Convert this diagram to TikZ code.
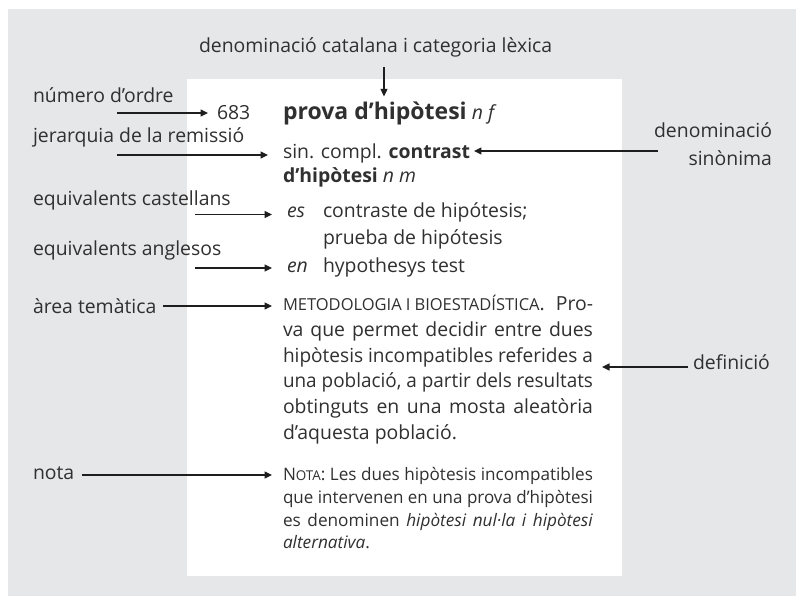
\documentclass[tikz,border=0pt]{standalone}
\usepackage{fontspec}
\usepackage{graphicx}
\setmainfont{Open Sans}
\usetikzlibrary{arrows.meta,calc}
\definecolor{bggray}{HTML}{E6E7E8}
\definecolor{txt}{HTML}{303030}
\definecolor{arrc}{HTML}{1E1E1E}
\newcommand{\labfont}{\fontsize{19.4}{22}\selectfont}
\newcommand{\notefont}{\fontsize{17.2}{20}\selectfont}
\newcommand{\scfont}{\fontsize{16.5}{18}\selectfont}
\newsavebox{\jbox}
\newlength{\jw}\setlength{\jw}{310pt}
\newcommand{\jline}[1]{\sbox{\jbox}{#1}\ifdim\wd\jbox>\jw\resizebox{\jw}{\ht\jbox}{\usebox{\jbox}}\else\makebox[\jw][s]{#1}\fi}
\tikzset{
  lab/.style={inner sep=0pt, outer sep=0pt, anchor=base west, text=txt, font=\labfont},
  labr/.style={lab, anchor=base east},
  notel/.style={lab, font=\notefont},
  arr/.style={draw=arrc, line width=1.2pt, -{Triangle[length=7.5pt,width=7pt]}}
}
\begin{document}
\begin{tikzpicture}[x=1pt,y=-1pt]
\useasboundingbox (0,0) rectangle (796,597);
\fill[white] (0,0) rectangle (796,597);
\fill[bggray] (8,9) rectangle (796,596);
\fill[white] (187,79) rectangle (622,576);

% top label
\node[lab, anchor=base west] (lcat) at (199,52) {denominació catalana i categoria lèxica};

% left labels
\node[lab] (lord) at (33,102) {número d’ordre};
\node[lab] (ljer) at (33,142) {jerarquia de la remissió};
\node[lab] (lcas) at (33,205) {equivalents castellans};
\node[lab] (lang) at (33,255) {equivalents anglesos};
\node[lab] (lare) at (33,313) {àrea temàtica};
\node[lab] (lnot) at (33,479) {nota};

% right labels
\node[labr] (lsin1) at (772,137) {denominació};
\node[labr] (lsin2) at (772,165) {sinònima};
\node[lab] (ldef) at (693,369) {definició};

% entry
\node[lab] (n683) at (217,119) {683};
\node[lab] (head) at (283,119) {{\fontsize{23}{26}\selectfont\bfseries prova d’hipòtesi} \textit{n f}};
\node[lab] (sin) at (283,158) {sin. compl. \textbf{contrast}};
\node[lab] (sin2) at (283,182) {\textbf{d’hipòtesi} \textit{n m}};
\node[lab] (es) at (287,217) {\textit{es}};
\node[lab] (es1) at (323,217) {contraste de hipótesis;};
\node[lab] (es2) at (323,244) {prueba de hipótesis};
\node[lab] (en) at (287,272) {\textit{en}};
\node[lab] (en1) at (323,272) {hypothesys test};

\node[lab] (d1) at (283,310.7) {\jline{{\scfont METODOLOGIA\hspace{0.25em}I\hspace{0.25em}BIOESTADÍSTICA}. Pro-}};
\node[lab] (d2) at (283,336.4) {\jline{va que permet decidir entre dues}};
\node[lab] (d3) at (283,362.1) {\jline{hipòtesis incompatibles referides a}};
\node[lab] (d4) at (283,387.8) {\jline{una població, a partir dels resultats}};
\node[lab] (d5) at (283,413.5) {\jline{obtinguts en una mosta aleatòria}};
\node[lab] (d6) at (283,439.2) {d’aquesta població.};

\node[notel] (nt1) at (283,480) {\jline{N{\fontsize{13.5}{16}\selectfont OTA}: Les dues hipòtesis incompatibles}};
\node[notel] (nt2) at (283,503) {\jline{que intervenen en una prova d’hipòtesi}};
\node[notel] (nt3) at (283,526) {\jline{es denominen \textit{hipòtesi nul·la i hipòtesi}}};
\node[notel] (nt4) at (283,548.5) {\textit{alternativa}.};

% arrow start points
\coordinate (scat) at (384,67);
\coordinate (sord) at (117,113);
\coordinate (sjer) at (117,155);
\coordinate (scas) at (195,214.5);
\coordinate (sang) at (195,268);
\coordinate (sare) at (163,306);
\coordinate (snot) at (82,475);
\coordinate (ssin) at (658,151);
\coordinate (sdef) at (688,367);

% connectors
\draw[arr] (scat) -- ($(scat |- head.north)+(0,-5)$);
\draw[arr] (sord) -- ($(sord -| n683.west)+(-9,0)$);
\draw[arr] (sjer) -- ($(sjer -| sin.west)+(-15,0)$);
\draw[arr] (scas) -- ($(scas -| es.west)+(-15,0)$);
\draw[arr] (sang) -- ($(sang -| en.west)+(-15,0)$);
\draw[arr] (sare) -- ($(sare -| d1.west)+(-11,0)$);
\draw[arr] (snot) -- ($(snot -| nt1.west)+(-11,0)$);
\draw[arr] (ssin) -- ($(ssin -| sin.east)+(4,0)$);
\draw[arr] (sdef) -- ($(sdef -| d3.east)+(9,0)$);
\end{tikzpicture}
\end{document}
